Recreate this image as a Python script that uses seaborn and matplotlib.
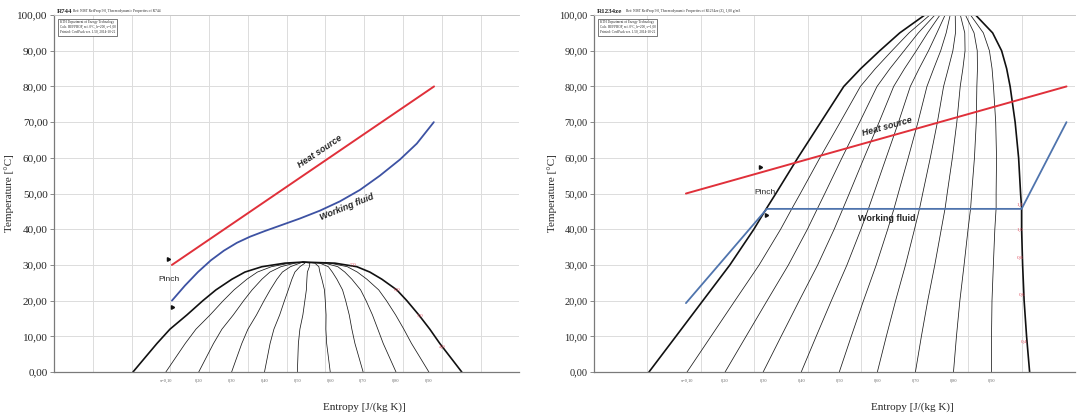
import numpy as np
import pandas as pd
import matplotlib
matplotlib.use("Agg")
import matplotlib.pyplot as plt
from matplotlib.ticker import FuncFormatter
import seaborn as sns

# ---------------- R744 (left diagram) ----------------
r744_dome_T = [0, 4, 8, 12, 16, 20, 23, 26, 28, 29.5, 30.5, 30.8]
r744_s_liq = [1.0036, 1.0345, 1.0655, 1.0990, 1.1428, 1.1840, 1.2175, 1.2588,
              1.2923, 1.3361, 1.3954, 1.4418]
r744_s_vap = [1.8515, 1.8232, 1.7948, 1.7691, 1.7407, 1.7098, 1.6840, 1.6454,
              1.6144, 1.5809, 1.5242, 1.4418]

r744_source_s = [1.104, 1.780]
r744_source_T = [30.0, 80.0]

r744_fluid_s = [1.1041, 1.1376, 1.1711, 1.2046, 1.2381, 1.2716, 1.3052, 1.3438,
                1.3825, 1.4340, 1.4856, 1.5371, 1.5887, 1.6402, 1.6918, 1.7356, 1.7794]
r744_fluid_T = [20.0, 24.2, 28.0, 31.3, 34.0, 36.2, 37.9, 39.5,
                41.0, 43.0, 45.2, 47.8, 51.0, 55.0, 59.5, 64.0, 70.0]

r744_pressure_labels = ["7,0", "6,0", "5,0", "4,0"]
r744_pressure_s = [1.571, 1.684, 1.743, 1.800]
r744_pressure_T = [30.0, 23.0, 15.6, 7.0]

# ---------------- R1234ze (right diagram) ----------------
r1234_dome_T = [0, 10, 20, 30, 40, 46, 50, 60, 70, 80, 85, 90, 95, 100, 104]
r1234_s_liq = [1.0028, 1.0533, 1.1037, 1.1542, 1.1991, 1.2234, 1.2402, 1.2813,
               1.3243, 1.3673, 1.3991, 1.4346, 1.4720, 1.5187, 1.5654]
r1234_s_vap = [1.7150, 1.7093, 1.7047, 1.7019, 1.7000, 1.7000, 1.6981, 1.6944,
               1.6879, 1.6785, 1.6720, 1.6626, 1.6458, 1.6140, 1.5654]

r1234_source_s = [1.072, 1.784]
r1234_source_T = [50.0, 80.0]

r1234_fluid_s = [1.072, 1.2234, 1.7000, 1.784]
r1234_fluid_T = [19.3, 45.7, 45.7, 70.0]

r1234_pressure_labels = ["1,2", "1,0", "0,8", "0,6", "0,4"]
r1234_pressure_s = [1.700, 1.701, 1.702, 1.704, 1.709]
r1234_pressure_T = [46.8, 39.8, 32.0, 21.6, 8.4]

qualities = [0.1, 0.2, 0.3, 0.4, 0.5, 0.6, 0.7, 0.8, 0.9]
quality_labels = ["x=0,10", "0,20", "0,30", "0,40", "0,50", "0,60", "0,70", "0,80", "0,90"]

sns.set_theme(style="white")
plt.rcParams["font.family"] = ["Liberation Serif", "DejaVu Serif"]

fig = plt.figure(figsize=(10.81, 4.18), dpi=100)
ax_l = fig.add_axes([0.04995, 0.110, 0.4305, 0.854])
ax_r = fig.add_axes([0.5495, 0.110, 0.4450, 0.854])

RED = "#e0303a"
BLUE_L = "#3d52a3"
BLUE_R = "#4f74ad"
SANS = ["Liberation Sans", "DejaVu Sans"]


def line(ax, s, T, color, lw, zorder=3):
    df = pd.DataFrame({"s": s, "T": T})
    sns.lineplot(data=df, x="s", y="T", sort=False, estimator=None, ax=ax,
                 color=color, linewidth=lw, zorder=zorder)


def draw_dome(ax, T, s_liq, s_vap):
    T = np.asarray(T)
    sl = np.asarray(s_liq)
    sv = np.asarray(s_vap)
    # constant-quality lines by the lever rule between the saturation curves
    for q in qualities:
        line(ax, sl + q * (sv - sl), T, "#1a1a1a", 0.55, zorder=2)
    line(ax, np.concatenate([sl, sv[::-1]]), np.concatenate([T, T[::-1]]),
         "#111111", 1.2, zorder=2)
    for q, lab in zip(qualities, quality_labels):
        sq = sl[0] + q * (sv[0] - sl[0])
        ax.text(sq, -2.4, lab, fontsize=3.2, color="#666666", ha="center",
                va="center", clip_on=False)


def style_axes(ax, xlim, xstep, ylabel_x, xlabel_x, tick_fs):
    ax.set_xlim(*xlim)
    ax.set_ylim(0, 100)
    ax.set_xticks(np.arange(xlim[0], xlim[1] + 1e-9, xstep))
    ax.set_xticklabels([])
    ax.set_yticks(np.arange(0, 101, 10))
    ax.yaxis.set_major_formatter(FuncFormatter(lambda v, p: f"{v:.2f}".replace(".", ",")))
    ax.tick_params(axis="y", length=3, width=0.6, color="#777777", labelsize=tick_fs,
                   pad=1.5, left=True)
    ax.tick_params(axis="x", length=0)
    ax.grid(True, color="#dcdcdc", linewidth=0.7)
    ax.set_axisbelow(True)
    for side in ("left", "bottom"):
        ax.spines[side].set_color("#7a7a7a")
        ax.spines[side].set_linewidth(0.9)
    ax.spines["top"].set_color("#c8c8c8")
    ax.spines["top"].set_linewidth(0.7)
    ax.spines["right"].set_visible(False)
    ax.set_ylabel("Temperature [°C]", fontsize=8)
    ax.set_xlabel("Entropy [J/(kg K)]", fontsize=8)
    ax.yaxis.set_label_coords(ylabel_x, 0.5)
    ax.xaxis.set_label_coords(xlabel_x, -0.085)


def header(ax, fluid, note):
    ax.text(0.006, 1.004, fluid, transform=ax.transAxes, fontsize=5, fontweight="bold",
            ha="left", va="bottom")
    ax.text(0.006 + 0.0085 * len(fluid), 1.006, note, transform=ax.transAxes, fontsize=2.6,
            ha="left", va="bottom")
    ax.text(0.012, 0.985, "KTH Department of Energy Technology\n"
            "Calc. REFPROP, ref. 0°C, h=200, s=1,00\n"
            "Printed: CoolPack ver. 1.50, 2014-10-22",
            transform=ax.transAxes, fontsize=2.4, ha="left", va="top", linespacing=1.3,
            bbox=dict(boxstyle="square,pad=0.5", fc="white", ec="#444444", lw=0.5))


# ---- left: R744 ----
style_axes(ax_l, (0.80, 2.00), 0.10, -0.086, 0.667, 8)
draw_dome(ax_l, r744_dome_T, r744_s_liq, r744_s_vap)
line(ax_l, r744_source_s, r744_source_T, RED, 1.4)
line(ax_l, r744_fluid_s, r744_fluid_T, BLUE_L, 1.3)
for lab, s, t in zip(r744_pressure_labels, r744_pressure_s, r744_pressure_T):
    ax_l.text(s, t, lab, fontsize=3.8, color="#e05060", ha="center", va="center")
ax_l.plot([1.094], [31.8], marker=(3, 0, 30), ms=3, color="#111111", ls="none")
ax_l.plot([1.104], [18.3], marker=(3, 0, 150), ms=3, color="#111111", ls="none")
ax_l.text(1.070, 26.0, "Pinch", fontsize=6, family=SANS, ha="left", va="center")
ax_l.text(1.486, 61.9, "Heat source", fontsize=6.5, family=SANS, fontweight="bold",
          style="italic", rotation=34, ha="center", va="center")
ax_l.text(1.555, 46.2, "Working fluid", fontsize=6.5, family=SANS, fontweight="bold",
          style="italic", rotation=22, ha="center", va="center")
header(ax_l, "R744", "Ref: NIST RefProp 9.0, Thermodynamic Properties of R744")

# ---- right: R1234ze ----
style_axes(ax_r, (0.90, 1.80), 0.10, -0.077, 0.661, 7.5)
draw_dome(ax_r, r1234_dome_T, r1234_s_liq, r1234_s_vap)
line(ax_r, r1234_source_s, r1234_source_T, RED, 1.4)
line(ax_r, r1234_fluid_s, r1234_fluid_T, BLUE_R, 1.3)
for lab, s, t in zip(r1234_pressure_labels, r1234_pressure_s, r1234_pressure_T):
    ax_r.text(s - 0.004, t, lab, fontsize=3.8, color="#e05060", ha="center", va="center")
ax_r.plot([1.210], [57.4], marker=(3, 0, 30), ms=3, color="#111111", ls="none")
ax_r.plot([1.221], [44.0], marker=(3, 0, 150), ms=3, color="#111111", ls="none")
ax_r.text(1.200, 50.4, "Pinch", fontsize=6, family=SANS, ha="left", va="center")
ax_r.text(1.448, 68.6, "Heat source", fontsize=6.5, family=SANS, fontweight="bold",
          style="italic", rotation=15.5, ha="center", va="center")
ax_r.text(1.448, 43.1, "Working fluid", fontsize=6.5, family=SANS, fontweight="bold",
          ha="center", va="center")
header(ax_r, "R1234ze", "Ref: NIST RefProp 9.0, Thermodynamic Properties of R1234ze (Z), 1,00 g/m3")

fig.savefig("out.png", dpi=100)
